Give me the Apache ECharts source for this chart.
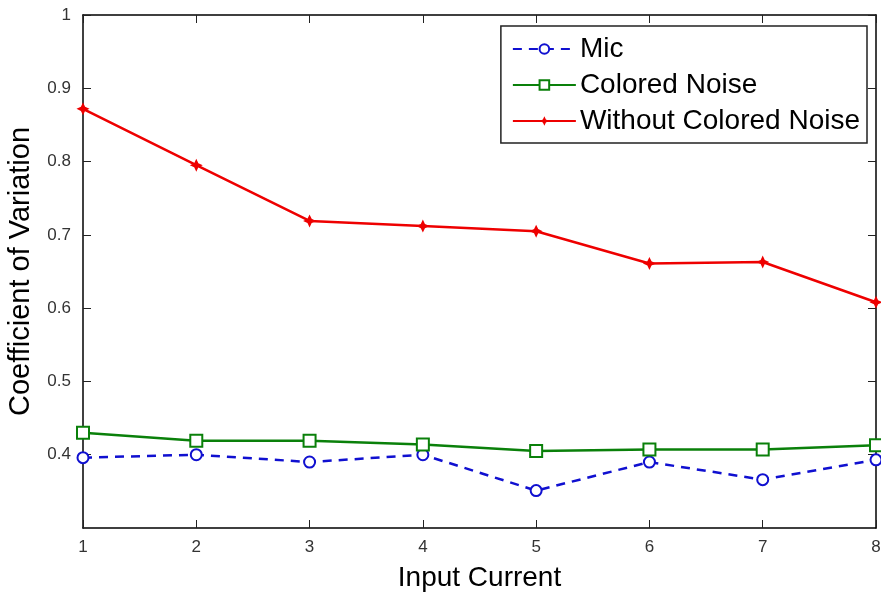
<!DOCTYPE html>
<html>
<head>
<meta charset="utf-8">
<script src="https://cdn.jsdelivr.net/npm/echarts@6/dist/echarts.min.js"></script>
<style>
  html, body { margin: 0; padding: 0; background: #fff; }
  #main { width: 881px; height: 592px; }
</style>
</head>
<body>
<div id="main"></div>
<script>
var inputCurrent = [1, 2, 3, 4, 5, 6, 7, 8];
var mic = [0.396, 0.400, 0.390, 0.400, 0.351, 0.390, 0.366, 0.393];
var coloredNoise = [0.430, 0.419, 0.419, 0.414, 0.405, 0.407, 0.407, 0.413];
var withoutColoredNoise = [0.872, 0.795, 0.719, 0.712, 0.705, 0.661, 0.663, 0.608];
var yTicks = [0.4, 0.5, 0.6, 0.7, 0.8, 0.9, 1];

function pairs(ys) {
  return inputCurrent.map(function (x, i) { return [x, ys[i]]; });
}

var myChart = echarts.init(document.getElementById('main'));

var font = 'Liberation Sans, Arial, sans-serif';
// fat 4 point star, looks like matlab '*' drawn thick
var starPath = 'path://M5,0 L6.6,3.4 L10,5 L6.6,6.6 L5,10 L3.4,6.6 L0,5 L3.4,3.4 Z';

var tickStyle = { inside: true, length: 8, lineStyle: { color: '#222', width: 1 } };
var lineStyle = { color: '#000', width: 1.5 };

var option = {
  backgroundColor: '#fff',
  animation: false,
  grid: { left: 83, top: 15, right: 5, bottom: 64, outerBoundsMode: 'none' },
  legend: {
    orient: 'vertical',
    right: 14,
    top: 26,
    padding: [9, 7, 8, 11],
    itemWidth: 63,
    itemHeight: 12,
    itemGap: 8,
    borderColor: '#222',
    borderWidth: 1.5,
    backgroundColor: '#fff',
    textStyle: { fontSize: 28, color: '#000', fontFamily: font, padding: [0, 0, 0, -1] },
    data: ['Mic', 'Colored Noise', 'Without Colored Noise']
  },
  xAxis: [{
    type: 'value',
    min: 1, max: 8, interval: 1,
    name: 'Input Current',
    nameLocation: 'middle',
    nameGap: 36,
    nameTextStyle: { fontSize: 28, color: '#000', fontFamily: font },
    axisLine: { lineStyle: lineStyle },
    axisTick: tickStyle,
    axisLabel: { fontSize: 17, color: '#333', fontFamily: font, margin: 11 },
    splitLine: { show: false }
  }, {
    type: 'value', position: 'top',
    min: 1, max: 8, interval: 1,
    axisLine: { lineStyle: lineStyle },
    axisTick: tickStyle,
    axisLabel: { show: false },
    splitLine: { show: false }
  }],
  yAxis: [{
    type: 'value',
    min: 0.3, max: 1, interval: 0.1,
    name: 'Coefficient of Variation',
    nameLocation: 'middle',
    nameGap: 48,
    nameTextStyle: { fontSize: 29, color: '#000', fontFamily: font },
    axisLine: { lineStyle: lineStyle },
    axisTick: Object.assign({ customValues: yTicks }, tickStyle),
    axisLabel: {
      fontSize: 17, color: '#333', fontFamily: font, margin: 12,
      customValues: yTicks,
      formatter: function (v) { return String(Math.round(v * 10) / 10); }
    },
    splitLine: { show: false }
  }, {
    type: 'value', position: 'right',
    min: 0.3, max: 1, interval: 0.1,
    axisLine: { lineStyle: lineStyle },
    axisTick: Object.assign({ customValues: yTicks }, tickStyle),
    axisLabel: { show: false },
    splitLine: { show: false }
  }],
  series: [{
    name: 'Mic',
    type: 'line',
    data: pairs(mic),
    symbol: 'emptyCircle',
    symbolSize: 11,
    color: '#1010d0',
    lineStyle: { width: 2.5, type: [9, 7] },
    itemStyle: { borderWidth: 2 }
  }, {
    name: 'Colored Noise',
    type: 'line',
    data: pairs(coloredNoise),
    symbol: 'emptyRect',
    symbolSize: 12,
    color: '#0a800a',
    lineStyle: { width: 2.5 },
    itemStyle: { borderWidth: 2 }
  }, {
    name: 'Without Colored Noise',
    type: 'line',
    data: pairs(withoutColoredNoise),
    symbol: starPath,
    symbolSize: 13,
    color: '#ee0000',
    lineStyle: { width: 2.5 }
  }]
};

myChart.setOption(option);
</script>
</body>
</html>
